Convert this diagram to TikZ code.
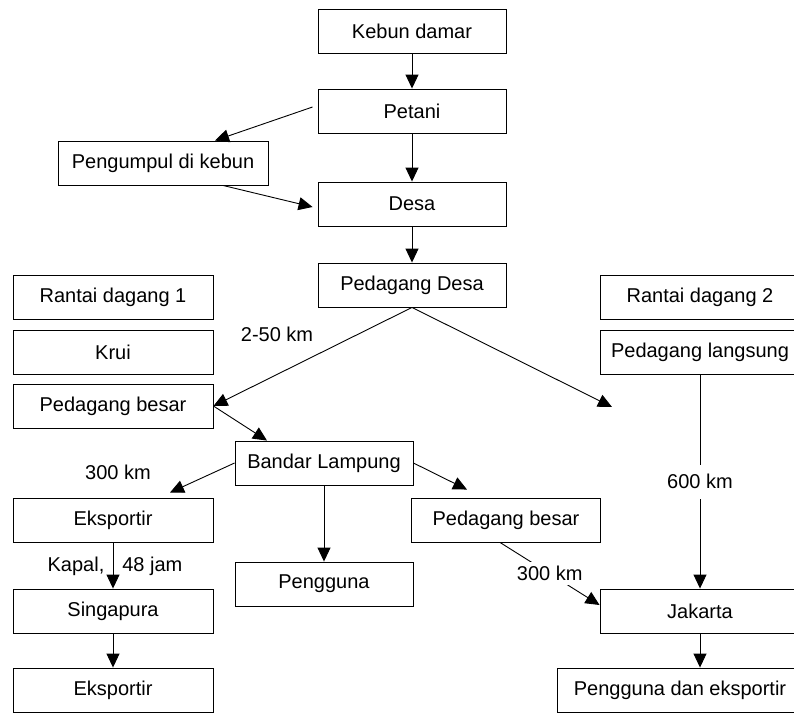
\documentclass[tikz,border=0pt]{standalone}
\usepackage{fontspec}
\setmainfont{Liberation Sans}
\usetikzlibrary{arrows.meta}

\begin{document}
\begin{tikzpicture}[x=1pt, y=-1pt, line width=0.9pt,
  font=\fontsize{20}{24}\selectfont,
  box/.style={draw, minimum width=200pt, minimum height=44pt, inner sep=0pt},
  >={Triangle[length=14pt,width=13pt]}]
\clip (0,0) rectangle (794,712);
\node[box, minimum width=188pt] (kebun) at (412,31) {Kebun damar};
\node[box, minimum width=188pt] (petani) at (412,111) {Petani};
\node[box, minimum width=210pt] (pengumpul) at (163,163) {Pengumpul di kebun};
\node[box, minimum width=188pt] (desa) at (412,204) {Desa};
\node[box, minimum width=188pt] (pdesa) at (412,285) {Pedagang Desa};
\node[box] (rantai1) at (113,297) {Rantai dagang 1};
\node[box] (krui) at (113,352) {Krui};
\node[box] (pbesar1) at (113,406) {Pedagang besar};
\node[box, minimum width=178pt] (bandar) at (324,463) {Bandar Lampung};
\node[box] (eksp1) at (113,520) {Eksportir};
\node[box, minimum width=189pt] (pbesar2) at (506,520) {Pedagang besar};
\node[box, minimum width=178pt] (pengguna) at (324,584) {Pengguna};
\node[box] (singapura) at (113,611) {Singapura};
\node[box] (eksp2) at (113,690) {Eksportir};
\node[box] (rantai2) at (700,297) {Rantai dagang 2};
\node[box] (plangsung) at (700,352) {Pedagang langsung};
\node[box] (jakarta) at (700,611) {Jakarta};
\node[box, minimum width=246pt] (pde) at (680,690) {Pengguna dan eksportir};
\coordinate (ujung) at (612,407);

\node (jarak1) at (277,334) {2-50 km};
\node (jarak2) at (118,472) {300 km};
\node (kapal) at (115,566) {Kapal,\hspace{18pt}48 jam};

\draw[->] (kebun) -- (petani);
\draw[->] (petani) -- (desa);
\draw[->] (desa) -- (pdesa);
\draw[->] ([xshift=-5pt,yshift=4pt]petani.west) -- ([xshift=52pt]pengumpul.north);
\draw[->] ([xshift=60pt]pengumpul.south) -- ([xshift=-5pt,yshift=-3pt]desa.west);
\draw[->] (pdesa.south) -- (pbesar1.east);
\draw[->] (pdesa.south) -- (ujung);
\draw[->] (pbesar1.east) -- ([xshift=-57pt]bandar.north);
\draw[->] (bandar.west) -- ([xshift=57pt,yshift=5pt]eksp1.north);
\draw[->] (bandar.east) -- ([xshift=-39pt,yshift=8pt]pbesar2.north);
\draw[->] (bandar) -- (pengguna);
\draw[->] (eksp1) -- (singapura);
\draw[->] (singapura) -- (eksp2);
\draw[->] (plangsung) -- node[fill=white, minimum height=34pt] {600 km} (jakarta);
\draw[->] ([xshift=-6pt]pbesar2.south) -- node[fill=white, inner sep=4pt] {300 km} ([yshift=6pt]jakarta.west);
\draw[->] (jakarta.south) -- (jakarta.south |- pde.north);
\end{tikzpicture}
\end{document}
